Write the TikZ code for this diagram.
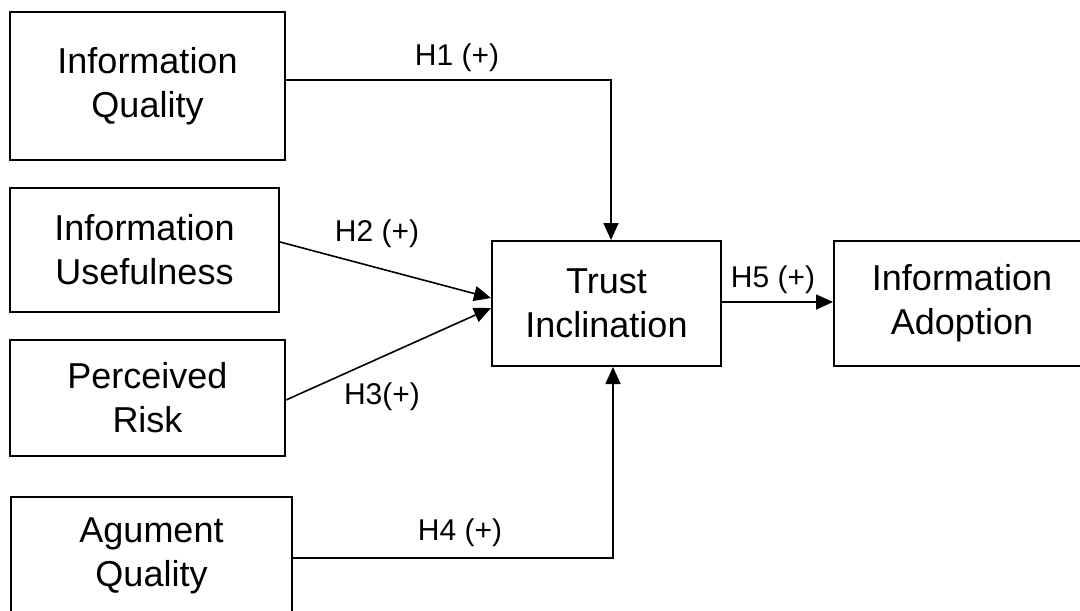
\documentclass[tikz,border=0pt]{standalone}
\usepackage{fontspec}
\setmainfont{Liberation Sans}
\usetikzlibrary{arrows.meta}
\tikzset{
  box/.style={draw, line width=2pt, align=center, inner sep=0pt,
    font=\fontsize{36}{44}\selectfont},
  hyp/.style={font=\fontsize{30}{36}\selectfont, inner sep=0pt},
  conn/.style={line width=1.6pt, -{Triangle[length=17pt,width=15pt]}},
}
\begin{document}
\begin{tikzpicture}[x=1pt,y=-1pt]
\useasboundingbox (0,0) rectangle (1080,611);
\clip (0,0) rectangle (1080,611);
\node[box, minimum width=275pt, minimum height=148pt] (IQ) at (147.5,86) {Information\\Quality};
\node[box, minimum width=269pt, minimum height=124pt] (IU) at (144.5,250) {Information\\Usefulness};
\node[box, minimum width=275pt, minimum height=116pt] (PR) at (147.5,398) {Perceived\\Risk};
\node[box, minimum width=281pt, minimum height=118pt] (AQ) at (151.5,556) {Agument\\Quality};
\node[box, minimum width=229pt, minimum height=125pt] (TI) at (606.5,303.5) {Trust\\Inclination};
\node[box, minimum width=256pt, minimum height=125pt] (IA) at (962,303.5) {Information\\Adoption};
\draw[conn] ([yshift=6pt]IQ.east) -| ([xshift=4.5pt]TI.north);
\draw[conn] ([yshift=8pt]IU.east) -- ([yshift=5.5pt]TI.west);
\draw[conn] ([yshift=-2pt]PR.east) -- ([yshift=-4.5pt]TI.west);
\draw[conn] ([yshift=-2pt]AQ.east) -| ([xshift=6.5pt]TI.south);
\draw[conn] ([yshift=1.5pt]TI.east) -- ([yshift=1.5pt]IA.west);
\node[hyp] (h1) at (457,58) {H1 (+)};
\node[hyp] (h2) at (377,234) {H2 (+)};
\node[hyp] (h3) at (382,397) {H3(+)};
\node[hyp] (h4) at (460,533) {H4 (+)};
\node[hyp] (h5) at (773,280) {H5 (+)};
\end{tikzpicture}
\end{document}
